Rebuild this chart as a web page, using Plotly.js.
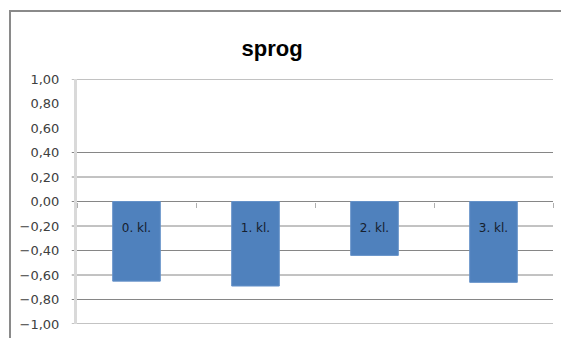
<!DOCTYPE html>
<html>
<head>
<meta charset="utf-8">
<script src="https://cdn.plot.ly/plotly-3.0.1.min.js"></script>
<style>
  html, body { margin: 0; padding: 0; background: #fff; }
  #wrap { position: relative; width: 561px; height: 338px; overflow: hidden; }
  #chart { position: absolute; left: 0; top: 0; width: 561px; height: 338px; }
  #frame { position: absolute; left: 9px; top: 10px; width: 600px; height: 400px;
           border-left: 2px solid #8a8a8a; border-top: 2px solid #8a8a8a; pointer-events: none; }
</style>
</head>
<body>
<div id="wrap">
  <div id="chart"></div>
  <div id="frame"></div>
</div>
<script>
// Data
const categories = ["0. kl.", "1. kl.", "2. kl.", "3. kl."];
const values = [-0.65, -0.69, -0.44, -0.66];
const tickValues = [1, 0.8, 0.6, 0.4, 0.2, 0, -0.2, -0.4, -0.6, -0.8, -1];
const gridValues = [1, 0.4, 0.2, 0, -0.2, -0.4, -0.6, -0.8, -1];
const chartTitle = "sprog";

const shapes = gridValues.map(v => ({
  type: 'line', xref: 'paper', yref: 'y', layer: 'below',
  x0: -0.011, x1: 1, y0: v, y1: v,
  line: { color: '#868686', width: 1 }
}));

const trace = {
  type: 'bar',
  x: categories,
  y: values,
  marker: { color: '#4f81bd', line: { color: '#6592c9', width: 1 } },
  hoverinfo: 'skip'
};

const layout = {
  width: 561, height: 338,
  margin: { l: 77, r: 8, t: 79, b: 14 },
  paper_bgcolor: '#ffffff',
  plot_bgcolor: 'rgba(0,0,0,0)',
  showlegend: false,
  bargap: 0.6,
  separators: ',.',
  title: {
    text: '<b>' + chartTitle + '</b>',
    font: { family: 'Liberation Sans, Arial, sans-serif', size: 22, color: '#000000' },
    x: 0.485, xref: 'container', xanchor: 'center',
    y: 0.858, yref: 'container', yanchor: 'middle'
  },
  xaxis: {
    type: 'category',
    anchor: 'free', position: 0.5,
    showgrid: false, zeroline: false, showline: false,
    ticks: 'outside', tickson: 'boundaries', ticklen: 5, tickwidth: 1, tickcolor: '#b0b0b0',
    ticklabelstandoff: 17,
    tickfont: { family: 'DejaVu Sans, sans-serif', size: 12, color: '#16202e' },
    fixedrange: true
  },
  yaxis: {
    range: [-1, 1],
    tickvals: tickValues,
    tickformat: '.2f',
    showgrid: false, zeroline: false,
    showline: true, linecolor: '#d9d9d9', linewidth: 3,
    ticks: '',
    ticklabelstandoff: 12,
    tickfont: { family: 'DejaVu Sans, sans-serif', size: 13, color: '#404040' },
    fixedrange: true
  },
  shapes: shapes
};

Plotly.newPlot('chart', [trace], layout, { displayModeBar: false, staticPlot: true });
</script>
</body>
</html>
